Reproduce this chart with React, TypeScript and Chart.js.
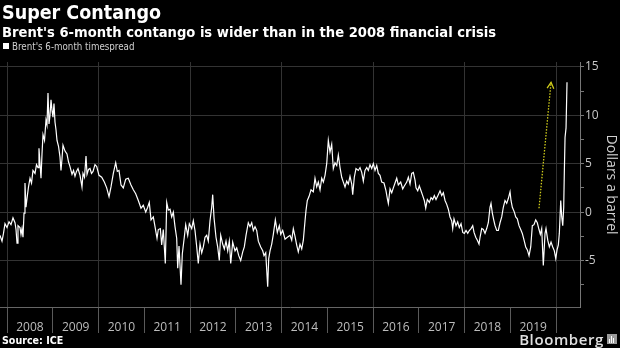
import React, { useEffect, useRef } from "react";
import { Chart, registerables } from "chart.js";

Chart.register(...registerables);

const TITLE = "Super Contango";
const SUBTITLE = "Brent's 6-month contango is wider than in the 2008 financial crisis";
const SERIES_LABEL = "Brent's 6-month timespread";
const Y_TITLE = "Dollars a barrel";
const SOURCE = "Source: ICE";
const BRAND = "Bloomberg";

// decimal-year dates of the readings
const dates = [
  2007.847, 2007.891, 2007.923, 2007.956, 2008.0, 2008.044, 2008.087, 2008.131, 2008.175, 2008.197,
  2008.219, 2008.24, 2008.284, 2008.306, 2008.328, 2008.35, 2008.372, 2008.393, 2008.415, 2008.448,
  2008.47, 2008.503, 2008.536, 2008.568, 2008.612, 2008.645, 2008.678, 2008.699, 2008.743, 2008.765,
  2008.787, 2008.82, 2008.852, 2008.874, 2008.896, 2008.918, 2008.94, 2008.962, 2008.984, 2009.005,
  2009.027, 2009.049, 2009.071, 2009.093, 2009.126, 2009.158, 2009.18, 2009.202, 2009.224, 2009.268,
  2009.311, 2009.344, 2009.377, 2009.421, 2009.454, 2009.486, 2009.519, 2009.552, 2009.596, 2009.639,
  2009.661, 2009.694, 2009.727, 2009.749, 2009.781, 2009.814, 2009.847, 2009.88, 2009.923, 2009.961,
  2010.011, 2010.07, 2010.127, 2010.179, 2010.23, 2010.273, 2010.324, 2010.376, 2010.411, 2010.448,
  2010.492, 2010.542, 2010.595, 2010.651, 2010.71, 2010.761, 2010.813, 2010.87, 2010.929, 2010.979,
  2011.032, 2011.075, 2011.11, 2011.148, 2011.198, 2011.235, 2011.279, 2011.307, 2011.351, 2011.381,
  2011.416, 2011.46, 2011.491, 2011.526, 2011.563, 2011.6, 2011.635, 2011.672, 2011.709, 2011.731,
  2011.76, 2011.803, 2011.832, 2011.875, 2011.906, 2011.95, 2011.985, 2012.037, 2012.072, 2012.109,
  2012.147, 2012.181, 2012.219, 2012.256, 2012.291, 2012.328, 2012.365, 2012.4, 2012.437, 2012.474,
  2012.496, 2012.525, 2012.568, 2012.605, 2012.64, 2012.671, 2012.714, 2012.75, 2012.787, 2012.824,
  2012.859, 2012.89, 2012.933, 2012.984, 2013.021, 2013.065, 2013.108, 2013.152, 2013.187, 2013.224,
  2013.274, 2013.311, 2013.349, 2013.384, 2013.421, 2013.458, 2013.493, 2013.545, 2013.589, 2013.618,
  2013.655, 2013.677, 2013.698, 2013.72, 2013.749, 2013.786, 2013.821, 2013.865, 2013.908, 2013.952,
  2013.983, 2014.026, 2014.077, 2014.127, 2014.186, 2014.223, 2014.258, 2014.295, 2014.332, 2014.367,
  2014.404, 2014.442, 2014.477, 2014.514, 2014.536, 2014.564, 2014.601, 2014.645, 2014.695, 2014.732,
  2014.769, 2014.804, 2014.842, 2014.879, 2014.914, 2014.951, 2014.988, 2015.023, 2015.06, 2015.097,
  2015.132, 2015.169, 2015.207, 2015.242, 2015.279, 2015.316, 2015.351, 2015.388, 2015.425, 2015.46,
  2015.497, 2015.535, 2015.556, 2015.591, 2015.628, 2015.679, 2015.716, 2015.753, 2015.788, 2015.825,
  2015.863, 2015.897, 2015.934, 2015.972, 2016.007, 2016.044, 2016.081, 2016.116, 2016.153, 2016.19,
  2016.24, 2016.284, 2016.313, 2016.335, 2016.372, 2016.409, 2016.444, 2016.481, 2016.518, 2016.553,
  2016.605, 2016.649, 2016.684, 2016.737, 2016.772, 2016.809, 2016.846, 2016.881, 2016.918, 2016.94,
  2016.977, 2017.012, 2017.049, 2017.086, 2017.121, 2017.152, 2017.187, 2017.231, 2017.268, 2017.305,
  2017.34, 2017.377, 2017.427, 2017.465, 2017.502, 2017.537, 2017.574, 2017.611, 2017.646, 2017.683,
  2017.72, 2017.742, 2017.77, 2017.814, 2017.851, 2017.886, 2017.924, 2017.961, 2017.996, 2018.033,
  2018.07, 2018.105, 2018.142, 2018.179, 2018.208, 2018.245, 2018.28, 2018.317, 2018.339, 2018.376,
  2018.411, 2018.448, 2018.485, 2018.52, 2018.557, 2018.579, 2018.608, 2018.638, 2018.667, 2018.704,
  2018.739, 2018.776, 2018.813, 2018.848, 2018.885, 2018.922, 2018.957, 2018.995, 2019.016, 2019.045,
  2019.089, 2019.119, 2019.154, 2019.191, 2019.228, 2019.263, 2019.301, 2019.338, 2019.373, 2019.41,
  2019.447, 2019.482, 2019.519, 2019.556, 2019.591, 2019.628, 2019.657, 2019.687, 2019.722, 2019.76,
  2019.781, 2019.819, 2019.854, 2019.891, 2019.928, 2019.963, 2019.994, 2020.022, 2020.05, 2020.072,
  2020.103, 2020.125, 2020.147, 2020.168, 2020.181, 2020.197, 2020.219, 2020.24,
];

// Brent 6-month timespread, dollars a barrel
const spread = [
  -2.4, -3.0, -2.2, -1.2, -1.6, -1.0, -1.3, -0.6, -1.1, -1.8,
  -3.2, -1.4, -1.6, -2.3, -1.7, -2.6, -0.1, 3.0, 0.5, 1.8,
  2.6, 3.5, 3.0, 4.3, 4.0, 4.9, 4.6, 6.6, 3.5, 6.0,
  8.0, 7.4, 9.5, 9.0, 12.3, 9.1, 10.0, 11.6, 10.5, 9.8,
  11.2, 9.3, 8.5, 7.4, 6.8, 5.7, 4.3, 5.5, 6.9, 6.3,
  6.0, 5.2, 4.7, 3.9, 4.3, 3.7, 4.2, 4.5, 3.8, 2.6,
  4.0, 3.6, 5.8, 3.9, 4.4, 4.5, 4.0, 4.2, 4.9, 4.7,
  3.8, 3.6, 3.1, 2.5, 1.6, 2.6, 4.0, 5.1, 4.2, 4.3,
  2.8, 2.5, 3.4, 3.5, 2.8, 2.3, 1.9, 1.2, 0.4, 0.7,
  0.0, 0.5, 1.0, -0.8, -0.5, -1.5, -2.7, -1.8, -1.7, -3.4,
  -1.8, -5.3, 1.0, 0.2, 0.3, -0.5, 0.0, -1.5, -2.7, -5.8,
  -3.5, -7.5, -4.3, -2.6, -1.3, -2.4, -1.2, -1.7, -0.9, -1.9,
  -3.6, -5.3, -3.3, -4.2, -3.6, -2.6, -2.4, -3.0, -0.9, 0.5,
  1.8, -0.6, -2.6, -3.6, -5.0, -2.4, -3.3, -3.8, -3.0, -4.0,
  -3.0, -5.3, -3.1, -4.0, -3.7, -4.5, -5.0, -4.1, -3.6, -2.4,
  -1.1, -1.5, -1.1, -1.9, -1.5, -1.9, -3.0, -3.6, -4.0, -4.5,
  -4.2, -6.0, -7.7, -4.8, -4.0, -3.3, -2.3, -0.8, -2.1, -1.4,
  -2.3, -1.9, -2.8, -2.6, -2.4, -2.9, -1.7, -2.5, -3.4, -4.1,
  -3.3, -3.8, -2.9, -0.9, 0.2, 1.2, 1.6, 2.3, 2.1, 3.5,
  2.6, 3.1, 2.3, 3.5, 3.1, 3.8, 5.0, 7.4, 6.2, 7.0,
  4.5, 5.1, 4.8, 5.9, 4.6, 3.6, 3.1, 2.6, 3.2, 2.9,
  3.7, 2.9, 1.8, 3.6, 4.5, 4.3, 4.6, 4.1, 3.2, 4.3,
  4.6, 4.3, 4.9, 4.5, 5.0, 4.3, 4.8, 4.0, 3.8, 3.1,
  3.0, 2.2, 1.4, 0.9, 2.4, 2.0, 2.5, 3.0, 3.5, 2.8,
  3.1, 2.4, 2.7, 3.1, 3.6, 2.9, 4.0, 4.1, 3.3, 2.5,
  2.2, 2.7, 2.2, 1.7, 1.2, 0.4, 1.3, 1.0, 1.5, 1.3,
  1.7, 1.3, 1.8, 2.2, 1.7, 2.0, 1.2, 0.8, 0.3, -0.5,
  -0.9, -1.7, -0.7, -1.4, -1.0, -1.6, -1.2, -2.1, -2.2, -1.9,
  -2.2, -1.9, -1.7, -1.4, -2.1, -2.6, -2.9, -3.3, -2.6, -1.7,
  -1.8, -2.2, -1.7, -1.1, 0.5, 0.9, -0.1, -0.8, -1.4, -1.9,
  -1.9, -1.1, -0.5, 0.5, 1.2, 0.9, 1.4, 2.1, 1.2, 0.5,
  0.0, -0.5, -0.7, -1.4, -1.8, -2.2, -2.9, -3.6, -3.9, -4.5,
  -3.6, -1.4, -1.3, -0.8, -1.1, -1.8, -2.3, -1.7, -5.5, -2.2,
  -1.7, -2.9, -3.6, -3.1, -3.6, -4.0, -4.8, -3.9, -3.4, -2.2,
  1.2, -0.5, -1.4, 0.5, 4.0, 7.7, 8.7, 13.4,
];

const yearLabels = [2008, 2009, 2010, 2011, 2012, 2013, 2014, 2015, 2016, 2017, 2018, 2019];
const yearBounds = [2008, 2009, 2010, 2011, 2012, 2013, 2014, 2015, 2016, 2017, 2018, 2019, 2020];
const yTickValues = [-7.5, -5, -2.5, 0, 2.5, 5, 7.5, 10, 12.5, 15];
const arrowStart = { x: 2019.628, y: 0.4 };
const arrowEnd = { x: 2019.891, y: 13.4 };

const X_MIN = 2007.847;
const X_MAX = 2020.524;
const Y_MIN = -9.8;
const Y_MAX = 15.5;

const arrowPlugin = {
  id: "arrowNote",
  afterDatasetsDraw(chart: any) {
    const { ctx, scales } = chart;
    const xs = scales.x;
    const ys = scales.y;
    const x1 = xs.getPixelForValue(arrowStart.x);
    const y1 = ys.getPixelForValue(arrowStart.y);
    const x2 = xs.getPixelForValue(arrowEnd.x);
    const y2 = ys.getPixelForValue(arrowEnd.y);
    const ang = Math.atan2(y2 - y1, x2 - x1);
    const len = 7;
    ctx.save();
    ctx.strokeStyle = "#cfcb1a";
    ctx.lineWidth = 1.3;
    ctx.setLineDash([1.5, 1.5]);
    ctx.beginPath();
    ctx.moveTo(x1, y1);
    ctx.lineTo(x2, y2);
    ctx.stroke();
    ctx.setLineDash([]);
    ctx.beginPath();
    ctx.moveTo(x2 - len * Math.cos(ang - 0.5), y2 - len * Math.sin(ang - 0.5));
    ctx.lineTo(x2, y2);
    ctx.lineTo(x2 - len * Math.cos(ang + 0.5), y2 - len * Math.sin(ang + 0.5));
    ctx.stroke();
    ctx.restore();
  },
};

const isEvenYear = (v: number) => Number.isInteger(v) && v % 2 === 0;

export default function App() {
  const canvasRef = useRef<HTMLCanvasElement | null>(null);

  useEffect(() => {
    if (!canvasRef.current) return;
    const points = dates.map((d, i) => ({ x: d, y: spread[i] }));
    const chart = new Chart(canvasRef.current, {
      type: "line",
      data: {
        datasets: [
          {
            label: SERIES_LABEL,
            data: points,
            borderColor: "#ffffff",
            borderWidth: 1.2,
            pointRadius: 0,
            tension: 0,
            fill: false,
          },
        ],
      },
      options: {
        animation: false,
        responsive: false,
        events: [],
        layout: { padding: { top: 62, left: 0, right: 0, bottom: 13 } },
        plugins: {
          legend: { display: false },
          title: { display: false },
          tooltip: { enabled: false },
        },
        scales: {
          x: {
            type: "linear",
            position: "bottom",
            min: X_MIN,
            max: X_MAX,
            afterBuildTicks: (scale: any) => {
              const t: any[] = [];
              yearBounds.forEach((b) => t.push({ value: b }));
              yearLabels.forEach((y) => t.push({ value: y + 0.5 }));
              t.sort((a, b) => a.value - b.value);
              scale.ticks = t;
            },
            afterFit: (scale: any) => {
              scale.height = 28;
            },
            grid: {
              color: (ctx: any) => (ctx.tick && isEvenYear(ctx.tick.value) ? "#333333" : "rgba(0,0,0,0)"),
              tickColor: (ctx: any) => (ctx.tick && Number.isInteger(ctx.tick.value) ? "#5a5a5a" : "rgba(0,0,0,0)"),
              tickLength: 26,
              lineWidth: 1,
            },
            border: { display: true, color: "#666666", width: 1 },
            ticks: {
              autoSkip: false,
              maxRotation: 0,
              minRotation: 0,
              padding: -13,
              color: "#bdbdbd",
              font: { family: "Open Sans", size: 12 },
              callback: (v: any) => {
                const n = Number(v);
                return Number.isInteger(n) ? "" : String(Math.floor(n));
              },
            },
          },
          y: {
            type: "linear",
            position: "right",
            min: Y_MIN,
            max: Y_MAX,
            afterBuildTicks: (scale: any) => {
              scale.ticks = yTickValues.map((v) => ({ value: v }));
            },
            afterFit: (scale: any) => {
              scale.width = 40;
            },
            grid: {
              color: (ctx: any) => (ctx.tick && ctx.tick.value % 5 === 0 ? "#333333" : "rgba(0,0,0,0)"),
              tickColor: "#777777",
              tickLength: 4,
            },
            border: { display: true, color: "#777777", width: 1 },
            ticks: {
              autoSkip: false,
              padding: 1,
              color: "#c8c8c8",
              font: { family: "Open Sans", size: 12 },
              callback: (v: any) => (Number(v) % 5 === 0 ? String(v) : ""),
            },
            title: {
              display: true,
              text: Y_TITLE,
              color: "#d0d0d0",
              font: { family: "Open Sans", size: 14 },
              padding: { top: 1, bottom: 0 },
            },
          },
        },
      },
      plugins: [arrowPlugin],
    } as any);
    return () => chart.destroy();
  }, []);

  const base: React.CSSProperties = {
    position: "absolute",
    whiteSpace: "nowrap",
    fontFamily: "'DejaVu Sans Condensed', 'DejaVu Sans', sans-serif",
  };

  return (
    <div
      style={{
        position: "fixed",
        left: 0,
        top: 0,
        width: 620,
        height: 348,
        background: "#000",
        overflow: "hidden",
      }}
    >
      <canvas
        ref={canvasRef}
        width={620}
        height={348}
        style={{ position: "absolute", left: 0, top: 0, width: 620, height: 348 }}
      />
      <div style={{ ...base, left: 2, top: 3, fontSize: 19.5, lineHeight: "19.5px", fontWeight: 700, color: "#fff" }}>
        {TITLE}
      </div>
      <div style={{ ...base, left: 2, top: 25, fontSize: 14.6, lineHeight: "14.6px", fontWeight: 700, color: "#fff" }}>
        {SUBTITLE}
      </div>
      <div style={{ position: "absolute", left: 3, top: 43, width: 6, height: 6, background: "#fff" }} />
      <div style={{ ...base, left: 12, top: 42, fontSize: 9.7, lineHeight: "9.7px", color: "#d0d0d0" }}>
        {SERIES_LABEL}
      </div>
      <div style={{ ...base, left: 2, top: 335, fontSize: 10.6, lineHeight: "10.6px", fontWeight: 700, color: "#fff" }}>
        {SOURCE}
      </div>
      <div
        style={{
          ...base,
          right: 16,
          top: 332,
          fontSize: 15,
          lineHeight: "15px",
          fontWeight: 600,
          letterSpacing: 0.6,
          color: "#e0e0e0",
          fontFamily: "'Open Sans', sans-serif",
        }}
      >
        {BRAND}
      </div>
      <div style={{ position: "absolute", left: 607, top: 334, width: 10, height: 10, background: "#9a9a9a" }}>
        <div style={{ position: "absolute", left: 2, top: 5, width: 1, height: 4, background: "#fff" }} />
        <div style={{ position: "absolute", left: 4, top: 2, width: 1, height: 7, background: "#fff" }} />
        <div style={{ position: "absolute", left: 6, top: 4, width: 1, height: 5, background: "#fff" }} />
      </div>
    </div>
  );
}
